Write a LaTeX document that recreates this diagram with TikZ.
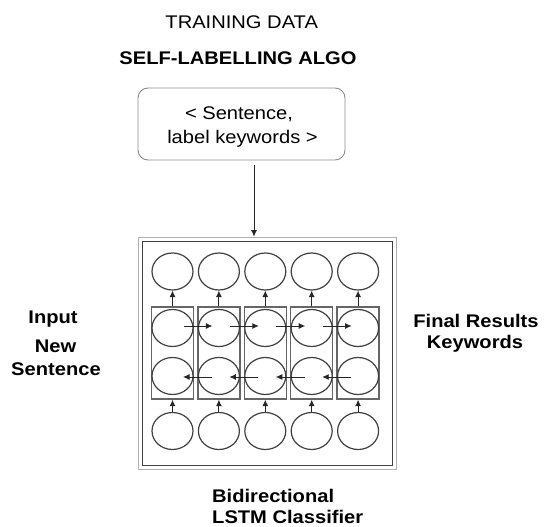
\documentclass[tikz,border=0pt]{standalone}
\usepackage{fontspec}
\setmainfont{Liberation Sans}[FakeStretch=1.1]
\usetikzlibrary{arrows.meta,shapes.geometric,calc}

\begin{document}
\begin{tikzpicture}[x=1pt,y=-1pt,
  unit/.style={ellipse,draw=black!75,line width=1.2pt,fill=white,
    minimum width=41pt,minimum height=37pt,inner sep=0pt},
  cell/.style={draw=black!60,line width=1.4pt,minimum width=42pt,
    minimum height=92pt,inner sep=0pt},
  flow/.style={draw=black!85,line width=0.9pt,-{Latex[length=6.5pt,width=6pt]}},
  lbl/.style={font=\fontsize{18.3}{22}\selectfont,inner sep=0pt},
  bold/.style={inner sep=0pt,font=\fontsize{18.3}{22}\selectfont\bfseries}
]
\fill[white] (0,0) rectangle (544,527);
\useasboundingbox (0,0) rectangle (544,527);

% headings
\node[lbl,anchor=base] (title) at (241.7,29) {TRAINING DATA};
\node[bold,anchor=base] (algo) at (238,65) {SELF-LABELLING ALGO};

% training pair box
\node[draw=black!45,line width=0.9pt,rounded corners=10pt,
  minimum width=207pt,minimum height=72pt,inner sep=0pt] (data) at (241.5,124) {};
\node[lbl,anchor=base] (s1) at (239,120) {< Sentence,};
\node[lbl,anchor=base] (s2) at (242.5,143) {label keywords >};

% classifier frame
\node[draw=black!30,line width=0.8pt,minimum width=258pt,minimum height=232pt,
  inner sep=0pt] (frame) at (267,353) {};
\node[draw=black!75,line width=1pt,minimum width=250pt,minimum height=224pt,
  inner sep=0pt] (lstm) at (267,353) {};

\coordinate (feed) at ($(data.south)+(12.5,5)$);
\draw[flow] (feed) -- (feed |- frame.north);

% LSTM cells and units
\foreach \i/\x in {1/172.5,2/218.9,3/265.3,4/311.7,5/358.1} {
  \node[cell] (cell\i) at (\x,353) {};
  \node[unit] (out\i) at (\x,271.5) {};
  \node[unit] (fw\i) at (\x,328) {};
  \node[unit] (bw\i) at (\x,376) {};
  \node[unit] (in\i) at (\x,431) {};
  \draw[flow] (cell\i.north) -- (out\i.south);
  \draw[flow] (in\i.north) -- (cell\i.south);
}
\foreach \a/\b in {1/2,2/3,3/4,4/5} {
  \draw[flow] ($(fw\a.center)+(11,-2)$) -- ($(fw\b.center)+(-6.5,-2)$);
  \draw[flow] ($(bw\b.center)+(-7,1)$) -- ($(bw\a.center)+(10.5,1)$);
}

% side and bottom labels
\node[bold,anchor=base] (inp) at (53,323) {Input};
\node[bold,anchor=base] (new) at (55.5,352) {New};
\node[bold,anchor=base] (sent) at (56,375) {Sentence};
\node[bold,anchor=base] (fin) at (476,327) {Final Results};
\node[bold,anchor=base] (kw) at (475,348) {Keywords};
\node[bold,anchor=base west] (bi) at (212,502) {Bidirectional};
\node[bold,anchor=base west] (cls) at (212,523) {LSTM Classifier};
\end{tikzpicture}
\end{document}
